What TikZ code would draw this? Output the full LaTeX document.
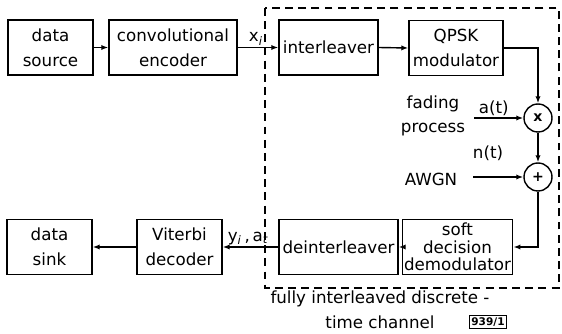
\documentclass[tikz,border=0pt]{standalone}
\usepackage{fontspec}
\setmainfont{DejaVu Sans}
\usepackage{tikz}
\usetikzlibrary{arrows.meta}

\begin{document}
\begin{tikzpicture}[x=0.02cm,y=-0.02cm,
    blk/.style={draw,black,line width=0.8pt,minimum height=1.1cm,inner sep=1pt,align=center,font=\fontsize{9.5}{14}\selectfont},
    mix/.style={draw,circle,line width=0.8pt,minimum size=0.56cm,inner sep=0pt,font=\fontsize{8}{9}\selectfont\bfseries},
    sig/.style={line width=0.8pt,-{Latex[length=4pt,width=3pt]}},
    lbl/.style={font=\fontsize{9.5}{14}\selectfont,inner sep=1pt,align=center}]
\useasboundingbox (0,0) rectangle (562,334);
% channel frame
\draw[line width=0.7pt,dash pattern=on 4.5pt off 3pt] (265,8) rectangle (559,288);
% top row
\node[blk,minimum width=1.7cm] (src) at (50.5,47.5) {data\\source};
\node[blk,minimum width=2.56cm] (enc) at (173,47.5) {convolutional\\encoder};
\node[blk,minimum width=1.98cm] (intl) at (328.5,47.5) {interleaver};
\node[blk,minimum width=1.88cm] (qpsk) at (456,48) {QPSK\\modulator};
% fading and noise
\node[mix] (mul) at (538,118) {x};
\node[mix] (add) at (538,177) {+};
\node[lbl] (fad) at (433,116) {fading\\process};
\node[lbl] (awgn) at (431,179) {AWGN};
\coordinate (fa) at (474,118);
\coordinate (na) at (473,177);
\node[lbl] (nt) at (488,153) {n(t)};
% bottom row
\node[blk,minimum width=2.14cm,font=\fontsize{9.5}{10}\selectfont] (demod) at (457.5,247) {soft\\decision\\demodulator};
\node[blk,minimum width=2.38cm] (deint) at (338.5,247) {deinterleaver};
\node[blk,minimum width=1.7cm] (vit) at (179.5,247) {Viterbi\\decoder};
\node[blk,minimum width=1.7cm] (sink) at (49.5,247) {data\\sink};
% connections
\draw[sig] (src.east) -- (enc.west);
\draw[sig] (enc.east) -- node[lbl,above,pos=0.45] (xi) {x\textsubscript{\textit{i}}} (intl.west);
\draw[sig] (intl.east) -- (qpsk.west);
\draw[sig] (qpsk.east) -| (mul.north);
\draw[sig] (fa) -- node[lbl,above,pos=0.4] (at) {a(t)} (mul.west);
\draw[sig] (mul.south) -- (add.north);
\draw[sig] (na) -- (add.west);
\draw[sig] (add.south) |- (demod.east);
\draw[sig] (demod.west) -- (deint.east);
\draw[sig] (deint.west) -- node[lbl,above,pos=0.54] (ya) {y\textsubscript{\textit{i}}\,,\,a\textsubscript{\textit{t}}} (vit.east);
\draw[sig] (vit.west) -- (sink.east);
% caption of the channel
\node[lbl] (cap) at (380,310) {fully interleaved discrete -\\time channel};
\node[draw,line width=0.6pt,inner sep=1pt,font=\fontsize{6}{7}\selectfont\bfseries] (tag) at (488,322) {939/1};
\end{tikzpicture}
\end{document}
